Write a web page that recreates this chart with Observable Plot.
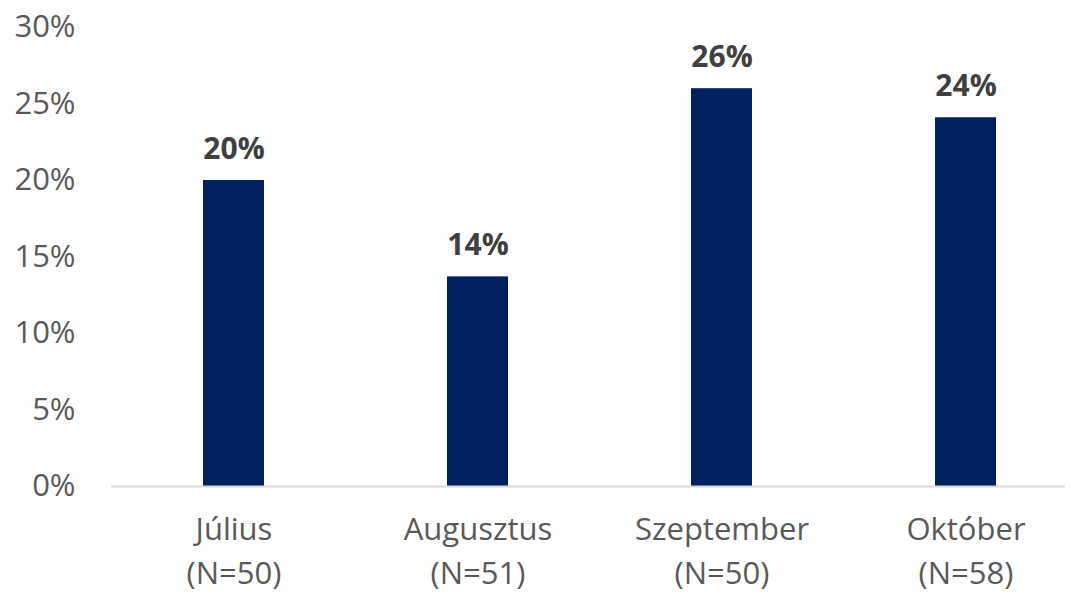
<!DOCTYPE html>
<html>
<head>
<meta charset="utf-8">
<script src="https://cdn.jsdelivr.net/npm/d3@7"></script>
<script src="https://cdn.jsdelivr.net/npm/@observablehq/plot@0.6"></script>
<style>
  html, body { margin: 0; padding: 0; background: #fff; }
  #chart svg { display: block; }
</style>
</head>
<body>
<div id="chart"></div>
<script>
const months = ["Július", "Augusztus", "Szeptember", "Október"];
const sampleSizes = [50, 51, 50, 58];
const shares = [0.20, 0.137, 0.26, 0.241];
const yTicks = [0, 0.05, 0.10, 0.15, 0.20, 0.25, 0.30];

const data = months.map((m, i) => ({
  cat: `${m}\n(N=${sampleSizes[i]})`,
  value: shares[i]
}));

const font = "'Open Sans', 'Liberation Sans', sans-serif";

const chart = Plot.plot({
  width: 1077,
  height: 598,
  marginLeft: 111,
  marginRight: 12,
  marginTop: 27,
  marginBottom: 112,
  style: { fontFamily: font, background: "#fff" },
  x: {
    domain: data.map(d => d.cat),
    range: [111, 1088],
    paddingInner: 0.75,
    paddingOuter: 0.375,
    label: null
  },
  y: {
    domain: [0, 0.30],
    label: null
  },
  marks: [
    Plot.axisY({
      ticks: yTicks,
      tickFormat: d3.format(".0%"),
      tickSize: 0,
      tickPadding: 36,
      fontSize: 31,
      color: "#595959",
      label: null
    }),
    Plot.axisX({
      tickSize: 0,
      tickPadding: 23,
      fontSize: 31,
      lineHeight: 1.4,
      color: "#595959",
      label: null
    }),
    Plot.barY(data, { x: "cat", y: "value", fill: "#002060" }),
    Plot.ruleY([0], { stroke: "#d9d9d9", strokeWidth: 2 }),
    Plot.text(data, {
      x: "cat",
      y: "value",
      text: d => d3.format(".0%")(d.value),
      lineAnchor: "bottom",
      dy: -22,
      fontSize: 30,
      fontWeight: "bold",
      fill: "#404040"
    })
  ]
});

document.getElementById("chart").append(chart);
</script>
</body>
</html>
